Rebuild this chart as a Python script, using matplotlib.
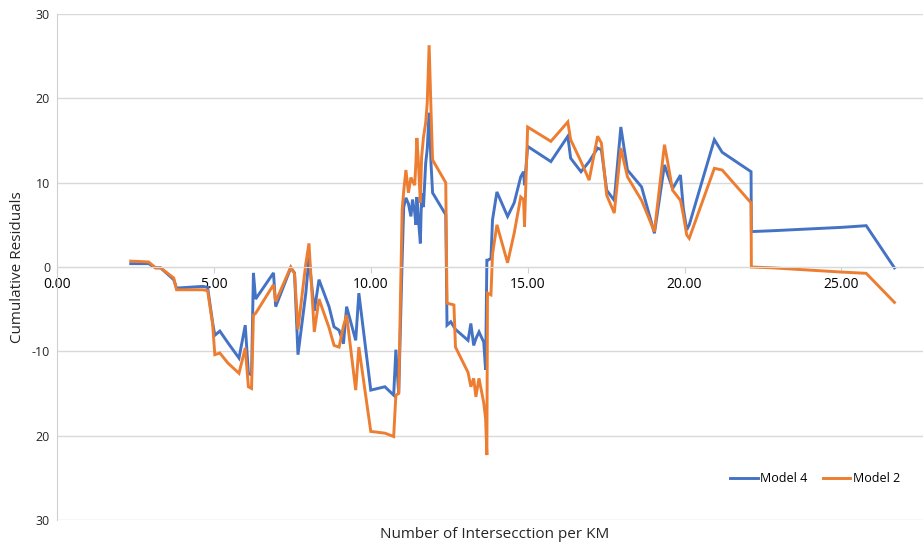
import numpy as np
import matplotlib.pyplot as plt

# shared x positions (intersections per km) and cumulative residuals per model
x_km = [2.35, 2.92, 3.14, 3.30, 3.72, 3.81, 4.64, 4.80, 4.96, 5.03, 5.19, 5.45,
        5.80, 6.00, 6.10, 6.20, 6.26, 6.33, 6.90, 6.97, 7.45, 7.57, 7.68, 7.93,
        8.03, 8.20, 8.35, 8.67, 8.83, 8.99, 9.13, 9.23, 9.52, 9.62, 10.00, 10.45,
        10.73, 10.80, 10.89, 11.00, 11.05, 11.12, 11.20, 11.28, 11.33, 11.40,
        11.44, 11.47, 11.52, 11.58, 11.62, 11.68, 11.75, 11.80, 11.86, 11.92,
        11.97, 12.39, 12.43, 12.55, 12.65, 12.70, 13.10, 13.19, 13.28, 13.35,
        13.45, 13.60, 13.66, 13.70, 13.72, 13.83, 13.88, 14.02, 14.36, 14.57,
        14.78, 14.87, 14.90, 15.00, 15.74, 16.28, 16.37, 16.70, 16.96, 17.23,
        17.35, 17.52, 17.76, 17.97, 18.18, 18.63, 19.04, 19.36, 19.46, 19.62,
        19.87, 19.96, 20.07, 20.15, 20.95, 21.20, 22.12, 22.13, 22.80, 25.00,
        25.79, 26.69]

model4 = [0.4, 0.4, -0.1, -0.1, -1.5, -2.5, -2.3, -2.4, -6.6, -8.1, -7.6, -9.0,
          -10.8, -6.9, -12.6, -12.8, -0.7, -3.8, -0.7, -4.7, -0.1, -0.7, -10.4, -3.1,
          1.1, -5.2, -1.5, -4.7, -7.1, -7.5, -9.1, -4.7, -8.7, -3.1, -14.6, -14.2,
          -15.2, -9.8, -15.0, 0.8, 7.1, 8.2, 7.5, 6.0, 8.0, 6.5,
          5.0, 8.3, 5.6, 2.8, 8.7, 7.1, 12.3, 14.0, 18.3, 12.3,
          8.8, 6.2, -6.9, -6.5, -7.1, -7.4, -8.7, -6.7, -9.3, -8.5,
          -7.7, -8.9, -12.2, 0.8, 0.8, 1.0, 5.6, 8.9, 6.0, 7.6,
          10.7, 11.3, 9.7, 14.3, 12.5, 15.5, 12.9, 11.3, 12.5, 14.1,
          13.9, 9.1, 7.9, 16.6, 11.5, 9.5, 4.0, 12.1, 11.0, 9.3,
          10.9, 7.0, 4.4, 5.0, 15.1, 13.6, 11.3, 4.2, 4.3, 4.7,
          4.9, -0.1]

model2 = [0.7, 0.6, -0.1, -0.1, -1.3, -2.7, -2.7, -2.8, -6.8, -10.4, -10.2, -11.4,
          -12.6, -9.6, -14.2, -14.4, -5.7, -5.5, -2.1, -4.1, 0.0, -0.8, -7.4, 0.4,
          2.8, -7.7, -3.8, -7.2, -9.3, -9.5, -7.0, -5.7, -14.6, -9.5, -19.5, -19.7,
          -20.1, -15.2, -15.0, 6.8, 9.0, 11.5, 8.8, 10.6, 10.2, 9.7,
          12.5, 15.3, 12.3, 7.6, 13.0, 15.4, 17.1, 19.5, 26.3, 18.6,
          12.7, 10.0, -4.3, -4.4, -4.5, -9.5, -12.5, -14.2, -13.2, -15.4,
          -13.2, -16.1, -18.0, -22.3, -3.1, -3.3, 1.5, 5.0, 0.5, 4.0,
          8.3, 8.0, 4.8, 16.6, 14.9, 17.2, 15.1, 12.5, 10.3, 15.5,
          14.7, 8.5, 6.4, 14.1, 10.7, 7.9, 4.2, 14.5, 12.5, 9.1,
          7.9, 6.2, 3.8, 3.4, 11.7, 11.5, 7.6, 0.0, -0.1, -0.6,
          -0.75, -4.2]

y_ticks = [30, 20, 10, 0, -10, -20, -30]
y_tick_labels = ["30", "20", "10", "0", "-10", "20", "30"]
x_ticks = [0, 5, 10, 15, 20, 25]
x_tick_labels = ["0.00", "5.00", "10.00", "15.00", "20.00", "25.00"]

plt.rcParams['font.family'] = ['Open Sans', 'DejaVu Sans']

fig = plt.figure(figsize=(9.24, 5.45), dpi=100)
ax = fig.add_axes([57 / 924, 25 / 545, 866 / 924, 506 / 545])

ax.plot(x_km, model4, color="#4472C4", lw=2.1, label="Model 4", solid_joinstyle="miter")
ax.plot(x_km, model2, color="#ED7D31", lw=2.1, label="Model 2", solid_joinstyle="miter")

ax.set_xlim(0, 27.6)
ax.set_ylim(-30, 30)

ax.set_yticks(y_ticks)
ax.set_yticklabels(y_tick_labels, fontsize=9, color="#262626")
ax.set_xticks(x_ticks)
ax.set_xticklabels(x_tick_labels, fontsize=9, color="#262626")
ax.tick_params(axis="y", length=0, pad=5)
ax.tick_params(axis="x", length=4, color="#D0D0D0", pad=3)

ax.grid(axis="y", color="#D9D9D9", lw=1.0)
ax.set_axisbelow(True)
for s in ["top", "right"]:
    ax.spines[s].set_visible(False)
ax.spines["left"].set_color("#D0D0D0")
ax.spines["bottom"].set_position(("data", 0))
ax.spines["bottom"].set_color("#D9D9D9")

# axis titles placed in figure pixels like the reference
fig.text(18 / 924, 1 - 267 / 545, "Cumulative Residuals", rotation=90,
         fontsize=11, color="#262626", ha="center", va="center")
fig.text(495 / 924, 1 - 534 / 545, "Number of Intersecction per KM",
         fontsize=11, color="#262626", ha="center", va="center")

ax.legend(loc="center", bbox_to_anchor=(815 / 924, 1 - 479 / 545),
          bbox_transform=fig.transFigure, ncol=2, frameon=False,
          fontsize=9, handlelength=2.2, handletextpad=0.2, columnspacing=1.2)

fig.savefig("out.png", dpi=100)
